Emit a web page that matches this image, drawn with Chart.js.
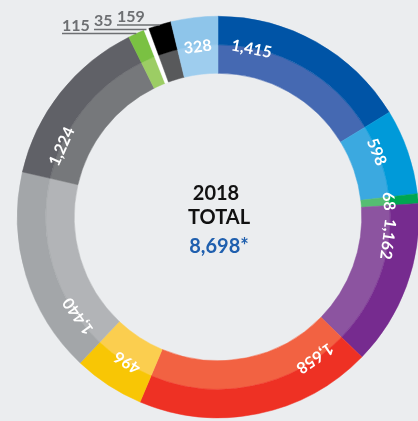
<!DOCTYPE html>
<html>
<head>
<meta charset="utf-8">
<script src="https://cdn.jsdelivr.net/npm/chart.js@4"></script>
<style>
    html, body { margin: 0; padding: 0; background: #ebedef; overflow: hidden; }
    #wrap { position: absolute; left: 0; top: -1px; width: 436px; height: 436px; }
</style>
</head>
<body>
<div id="wrap"><canvas id="chart"></canvas></div>
<script>
// values going clockwise from 12 o'clock
var values = [1415, 598, 68, 1162, 1658, 496, 1440, 1224, 115, 35, 159, 328];
var valueLabels = ["1,415", "598", "68", "1,162", "1,658", "496", "1,440", "1,224", "115", "35", "159", "328"];
var outerColors = ["#0054a6", "#009ad9", "#00a651", "#762b8f", "#ee3124", "#f8c605",
                   "#a3a6a9", "#606167", "#7ac142", "#ffffff", "#000000", "#8ec5ea"];
var innerColors = ["#4569b2", "#3ba9e0", "#55bd72", "#8c54a0", "#f26242", "#fbce4f",
                   "#b2b4b7", "#76787b", "#9ccd64", "#ffffff", "#58595b", "#9ecdee"];
// small slices get a label with a leader line instead
var calloutIndex = [8, 9, 10];
var calloutX = [62, 94, 117];
var year = "2018";
var totalTitle = "TOTAL";
var totalLabel = "8,698*";

var labelFont = "bold 16px Lato";

function drawArcLabels(chart) {
    var ctx = chart.ctx;
    var arcs = chart.getDatasetMeta(0).data;
    ctx.save();
    ctx.font = labelFont;
    ctx.fillStyle = "#ffffff";
    ctx.textAlign = "center";
    ctx.textBaseline = "middle";
    arcs.forEach((arc, i) => {
        if (calloutIndex.indexOf(i) >= 0) return;
        var r = arc.innerRadius;
        var half = (arc.endAngle - arc.startAngle) / 2;
        var w = ctx.measureText(valueLabels[i]).width;
        var offset = Math.min(half, w / 2 / r + 4.5 * Math.PI / 180);
        var a = arc.startAngle + offset;
        ctx.save();
        ctx.translate(arc.x + r * Math.cos(a), arc.y + r * Math.sin(a));
        ctx.rotate(a + Math.PI / 2);
        ctx.fillText(valueLabels[i], 0, 1);
        ctx.restore();
    });
    ctx.restore();
}

function drawCallouts(chart) {
    var ctx = chart.ctx;
    var arcs = chart.getDatasetMeta(0).data;
    ctx.save();
    ctx.font = "bold 16px Lato";
    ctx.fillStyle = "#6d6f72";
    ctx.strokeStyle = "#6d6f72";
    ctx.lineWidth = 1.5;
    ctx.textAlign = "left";
    ctx.textBaseline = "alphabetic";
    calloutIndex.forEach((idx, k) => {
        var arc = arcs[idx];
        var a = (arc.startAngle + arc.endAngle) / 2;
        var ex = arc.x + arc.outerRadius * Math.cos(a);
        var ey = arc.y + arc.outerRadius * Math.sin(a);
        ctx.beginPath();
        ctx.moveTo(calloutX[k], ey);
        ctx.lineTo(ex, ey);
        ctx.stroke();
        ctx.fillText(valueLabels[idx], calloutX[k], ey - 3);
    });
    ctx.restore();
}

function drawCenter(chart) {
    var ctx = chart.ctx;
    var arc = chart.getDatasetMeta(0).data[0];
    var cx = arc.x, cy = arc.y;
    ctx.save();
    ctx.textAlign = "center";
    ctx.textBaseline = "alphabetic";
    ctx.font = "bold 20px Lato";
    ctx.fillStyle = "#111111";
    ctx.fillText(year, cx - 2, cy - 17);
    ctx.fillText(totalTitle, cx + 1, cy + 7);
    ctx.fillStyle = "#1f5fae";
    ctx.fillText(totalLabel, cx + 1, cy + 36);
    ctx.restore();
}

var labelPlugin = {
    id: "labels",
    afterDatasetsDraw(chart) {
        drawArcLabels(chart);
        drawCallouts(chart);
        drawCenter(chart);
    }
};

new Chart("chart", {
    type: "doughnut",
    data: {
        labels: valueLabels,
        datasets: [
            { data: values, backgroundColor: outerColors, borderColor: outerColors, borderWidth: 0.5 },
            { data: values, backgroundColor: innerColors, borderColor: innerColors, borderWidth: 0.5 }
        ]
    },
    options: {
        responsive: true,
        maintainAspectRatio: false,
        animation: false,
        cutout: "71.6%",
        layout: { padding: 17 },
        plugins: {
            legend: { display: false },
            tooltip: { enabled: false }
        }
    },
    plugins: [labelPlugin]
});
</script>
</body>
</html>
